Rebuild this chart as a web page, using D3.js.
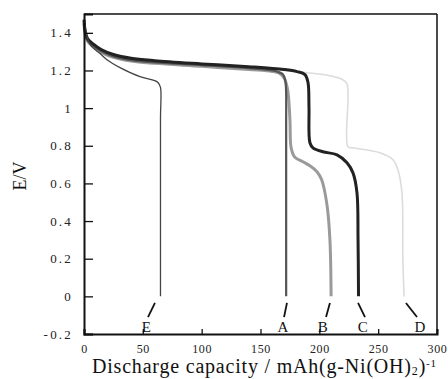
<!DOCTYPE html>
<html><head><meta charset="utf-8">
<script src="https://cdn.jsdelivr.net/npm/d3@7"></script>
<style>body{margin:0;background:#fff}svg{display:block}</style>
</head><body>
<script>
// ---- data ----
const capA = [0,1,3,8,15,25,40,60,100,140,160,166,169,171,171.7,171.8,171.8,171.8];
const voltA = [1.46,1.40,1.36,1.33,1.30,1.275,1.255,1.243,1.228,1.212,1.20,1.19,1.18,1.15,1.10,0.9,0.5,0.0];
const capB = [0,1,3,8,15,25,40,60,100,140,160,166,170,173,175,176,179,186,192,198,202,206.5,209,210];
const voltB = [1.45,1.39,1.355,1.325,1.295,1.27,1.25,1.238,1.222,1.205,1.195,1.185,1.16,1.10,0.94,0.79,0.74,0.715,0.694,0.662,0.619,0.486,0.30,0.0];
const capC = [0,1,3,8,15,25,40,60,100,140,170,181,187.8,190.4,191.2,192,194.6,203,215,223.5,228.6,232,232.9,233.3];
const voltC = [1.47,1.41,1.37,1.34,1.31,1.285,1.265,1.252,1.235,1.22,1.205,1.194,1.178,1.135,1.007,0.816,0.789,0.768,0.752,0.71,0.656,0.55,0.30,0.0];
const capD = [0,1,3,8,15,25,40,60,100,140,170,189.5,209,220,223.5,224.4,224.4,228.6,251.5,262.6,266.8,270.2,271,272];
const voltD = [1.46,1.40,1.36,1.33,1.30,1.275,1.255,1.243,1.228,1.213,1.2,1.188,1.172,1.151,1.13,1.06,0.795,0.789,0.763,0.726,0.672,0.55,0.194,0.0];
const capE = [0,1.7,5,13.6,19.5,30.6,47.6,60,63,65,65,65];
const voltE = [1.47,1.41,1.34,1.29,1.257,1.215,1.167,1.146,1.135,1.11,0.94,0.0];

const yTicks = [-0.2,0,0.2,0.4,0.6,0.8,1,1.2,1.4];
const yTickLabels = ["-0.2","0","0.2","0.4","0.6","0.8","1","1.2","1.4"];
const xTicks = [0,50,100,150,200,250,300];

const labelText = ["E","A","B","C","D"];
const labelCap = [53,169,203,237,285.5];
const leaderCap0 = [54.4,170,205.7,232.9,273.6];
const leaderV0 = [-0.11,-0.11,-0.11,-0.035,-0.035];
const leaderCap1 = [60.3,172.5,209,238.8,283];
const leaderV1 = [-0.035,-0.035,-0.035,-0.11,-0.11];

// ---- layout ----
const W = 448, H = 379;
const svg = d3.select("body").append("svg").attr("width", W).attr("height", H);
const x = d3.scaleLinear().domain([0,300]).range([84,437]);
const y = d3.scaleLinear().domain([-0.2,1.5]).range([334,14]);

const serif = "Liberation Serif, Times New Roman, serif";

// series
const series = [
  {cap: capD, v: voltD, color: "#dcdcdc", w: 1.6},
  {cap: capB, v: voltB, color: "#9a9a9a", w: 3},
  {cap: capA, v: voltA, color: "#555555", w: 2.2},
  {cap: capC, v: voltC, color: "#222222", w: 3},
  {cap: capE, v: voltE, color: "#444444", w: 1.3}
];
const line = d3.line().x(d => x(d[0])).y(d => y(d[1])).curve(d3.curveCatmullRom.alpha(0.5));
series.forEach(s => {
  svg.append("path").datum(s.cap.map((c,i)=>[c, s.v[i]]))
    .attr("d", line).attr("fill","none").attr("stroke", s.color)
    .attr("stroke-width", s.w).attr("stroke-linejoin","round");
});

// frame
svg.append("line").attr("x1",x(0)).attr("x2",x(300)).attr("y1",y(1.5)).attr("y2",y(1.5)).attr("stroke","#111").attr("stroke-width",1.5);
svg.append("line").attr("x1",x(300)).attr("x2",x(300)).attr("y1",y(1.5)).attr("y2",y(-0.2)).attr("stroke","#111").attr("stroke-width",1.5);

// y axis
const yAxis = d3.axisLeft(y).tickValues(yTicks).tickSize(-9).tickPadding(11)
  .tickFormat((d,i)=>yTickLabels[i]);
const gy = svg.append("g").attr("transform",`translate(${x(0)},0)`).call(yAxis)
  .attr("font-family", serif);
gy.select(".domain").attr("stroke","#111").attr("stroke-width",2);
gy.selectAll(".tick line").attr("stroke","#111").attr("stroke-width",1.3);
gy.selectAll(".tick text").style("font-family",serif).attr("font-size",13)
  .attr("letter-spacing","2.2px").attr("fill","#222");

// x axis
const xAxis = d3.axisBottom(x).tickValues(xTicks).tickSize(-5).tickPadding(10).tickFormat(d3.format("d"));
const gx = svg.append("g").attr("transform",`translate(0,${y(-0.2)})`).call(xAxis)
  .attr("font-family", serif);
gx.select(".domain").attr("stroke","#111").attr("stroke-width",2);
gx.selectAll(".tick line").attr("stroke","#111").attr("stroke-width",1.3);
gx.selectAll(".tick text").style("font-family",serif).attr("font-size",12)
  .attr("letter-spacing","0.6px").attr("fill","#222");

// annotation labels
labelText.forEach((t,i)=>{
  svg.append("line").attr("x1",x(leaderCap0[i])).attr("y1",y(leaderV0[i]))
    .attr("x2",x(leaderCap1[i])).attr("y2",y(leaderV1[i]))
    .attr("stroke","#111").attr("stroke-width",1.8);
  svg.append("text").attr("x",x(labelCap[i])).attr("y",332).attr("text-anchor","middle")
    .style("font-family",serif).attr("font-size",15).attr("fill","#111").text(t);
});

// axis titles
const xt = svg.append("text").attr("x",92).attr("y",373).style("font-family",serif)
  .attr("font-size",20).attr("letter-spacing","0.8px").attr("fill","#111");
xt.append("tspan").text("Discharge capacity / mAh(g-Ni(OH)");
xt.append("tspan").attr("font-size",12).attr("dy",2).text("2");
xt.append("tspan").attr("dy",-2).text(")");
xt.append("tspan").attr("font-size",11).attr("dy",-6).text("-1");

svg.append("text").attr("transform","translate(26,176) rotate(-90)").attr("text-anchor","middle")
  .style("font-family",serif).attr("font-size",18).attr("fill","#111").text("E/V");
</script>
</body></html>
